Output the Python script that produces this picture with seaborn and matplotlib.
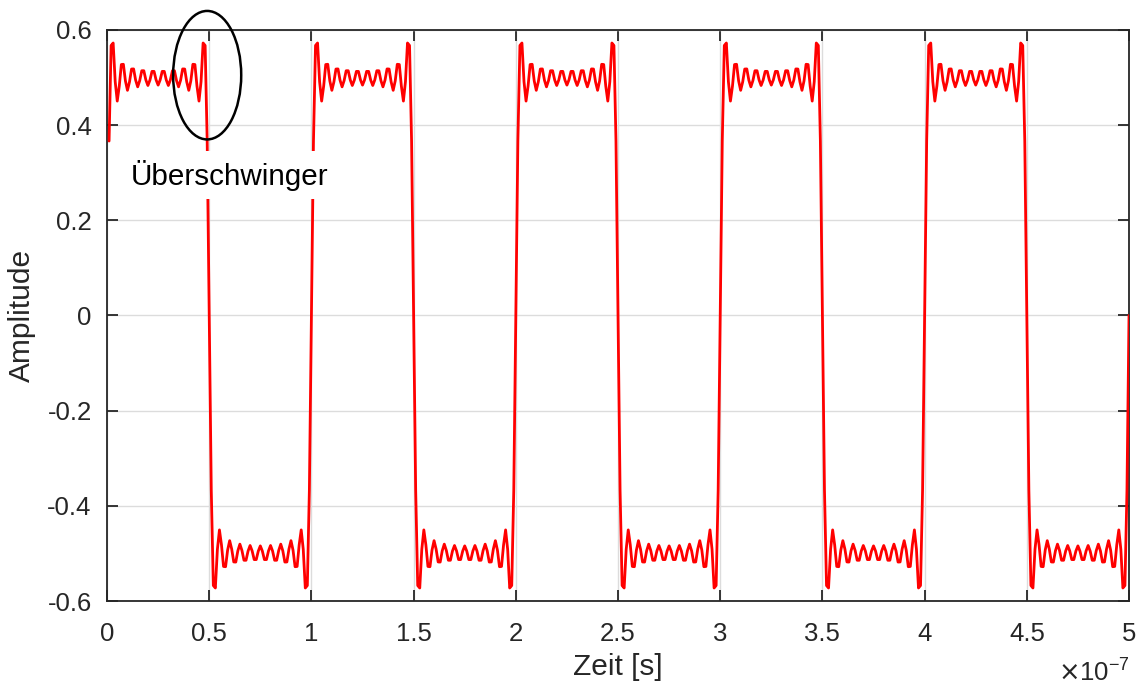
import numpy as np
import pandas as pd
import matplotlib
matplotlib.use("Agg")
import matplotlib.pyplot as plt
from matplotlib.patches import Ellipse
import seaborn as sns

# Fourier synthesis of a 10 MHz square wave (amplitude 0.5), first 10 odd harmonics
harmonics = [1, 3, 5, 7, 9, 11, 13, 15, 17, 19]
coefficients = [1.2732, 0.4244, 0.2546, 0.1819, 0.1415, 0.1157, 0.0979, 0.0849, 0.0749, 0.0670]
amplitude = 0.5
frequency = 1e7
sample_step = 1e-9
n_samples = 500

x_ticks = [0, 0.5e-7, 1e-7, 1.5e-7, 2e-7, 2.5e-7, 3e-7, 3.5e-7, 4e-7, 4.5e-7, 5e-7]
x_tick_labels = ["0", "0.5", "1", "1.5", "2", "2.5", "3", "3.5", "4", "4.5", "5"]
y_ticks = [-0.6, -0.4, -0.2, 0, 0.2, 0.4, 0.6]
y_tick_labels = ["-0.6", "-0.4", "-0.2", "0", "0.2", "0.4", "0.6"]

t = np.arange(1, n_samples + 1) * sample_step
signal = np.zeros_like(t)
for n, c in zip(harmonics, coefficients):
    signal += amplitude * c * np.sin(2 * np.pi * n * frequency * t)
df = pd.DataFrame({"Zeit": t, "Amplitude": signal})

sns.set_style("whitegrid")
plt.rcParams["font.family"] = ["Liberation Sans", "DejaVu Sans"]
plt.rcParams["axes.unicode_minus"] = False

fig = plt.figure(figsize=(11.41, 6.89), dpi=100)
ax = fig.add_axes([0.0938, 0.1277, 0.8957, 0.8288])

sns.lineplot(data=df, x="Zeit", y="Amplitude", color="red", linewidth=2.0, ax=ax, zorder=3)

ax.set_xlim(0, 5e-7)
ax.set_ylim(-0.6, 0.6)
ax.set_xticks(x_ticks)
ax.set_xticklabels(x_tick_labels)
ax.set_yticks(y_ticks)
ax.set_yticklabels(y_tick_labels)

ax.grid(True, color="#dcdcdc", linewidth=1.0)
for s in ax.spines.values():
    s.set_visible(True)
    s.set_color("#262626")
    s.set_linewidth(1.3)
ax.tick_params(direction="in", length=8, width=1.3, colors="#262626",
               labelsize=18.5, top=True, right=True, bottom=True, left=True)
ax.tick_params(axis="x", pad=15)
ax.tick_params(axis="y", pad=11)

ax.set_xlabel("Zeit [s]", fontsize=21.5, color="#262626", labelpad=5)
ax.set_ylabel("Amplitude", fontsize=21.5, color="#262626", labelpad=8)
fig.text(0.927, 0.004, r"$\times\mathregular{10^{-7}}$", fontsize=18.5, color="#262626",
         ha="left", va="bottom")

# annotation: overshoot
ax.add_patch(Ellipse((0.49e-7, 0.505), 0.333e-7, 0.27, fill=False,
                     edgecolor="black", linewidth=1.8, clip_on=False, zorder=5))
ax.text(0.117e-7, 0.295, "Überschwinger", fontsize=21.3, color="black",
        ha="left", va="center", zorder=6,
        bbox=dict(facecolor="white", edgecolor="none", pad=6))

fig.savefig("out.png", dpi=100)
